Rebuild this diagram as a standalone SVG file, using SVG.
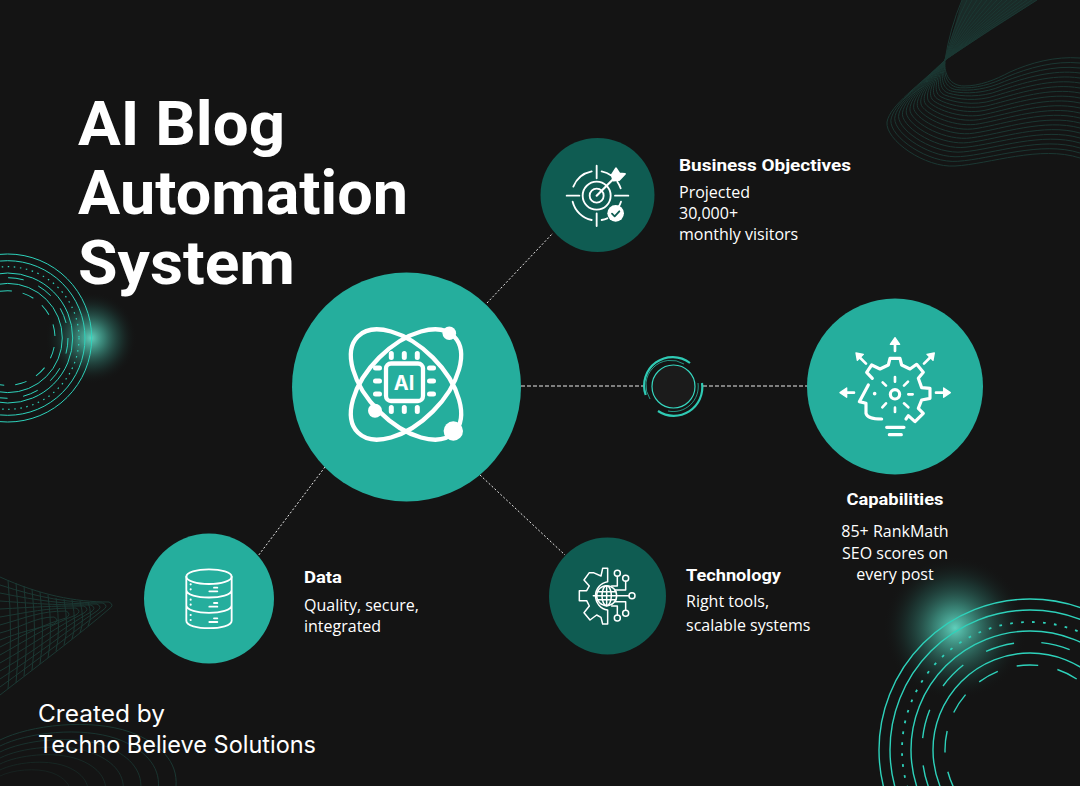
<svg xmlns="http://www.w3.org/2000/svg" width="1080" height="786" viewBox="0 0 1080 786">
<style>
.title{font:700 62px "Roboto","Liberation Sans",sans-serif;fill:#fff}
.head{font:700 17px "Roboto","Liberation Sans",sans-serif;fill:#fff}
.body{font:400 16px "Open Sans","Liberation Sans",sans-serif;fill:#fff}
.credit{font:400 24px "Inter","Open Sans",sans-serif;fill:#fff}
.mid{text-anchor:middle}
.wave{fill:none;stroke:#1b3833;stroke-width:1}
.ring{fill:none;stroke:#2ed2bb}
.link{stroke:#e8e8e8;stroke-width:1;stroke-dasharray:2 2;fill:none}
.dash{stroke-dasharray:4 2}
.ico{fill:none;stroke:#fff;stroke-linecap:round;stroke-linejoin:round}
.light{fill:#25ae9d}
.dark{fill:#0f5c52}
</style>
<defs>
<radialGradient id="glow"><stop offset="0" stop-color="#5fd0bc"/><stop offset=".3" stop-color="#3f9686" stop-opacity=".8"/><stop offset=".65" stop-color="#24564e" stop-opacity=".45"/><stop offset="1" stop-color="#141414" stop-opacity="0"/></radialGradient>
<path id="wv" d="M0 740C30 725 90 718 130 732C160 743 178 762 176 786"/>
</defs>
<rect width="1080" height="786" fill="#141414"/>

<g id="decor-top-right" class="wave">
<path d="M962 0L1037 0L945 60Z" fill="#1a2b28" stroke="none"/>
<path d="M945 60Q950 28 962 0M945 60Q952.75 28 967 0M945 60Q955.5 28 972 0M945 60Q958.25 28 977 0M945 60Q961 28 982 0M945 60Q963.75 28 987 0M945 60Q966.5 28 992 0M945 60Q969.25 28 997 0M945 60Q972 28 1002 0M945 60Q974.75 28 1007 0M945 60Q977.5 28 1012 0M945 60Q980.25 28 1017 0M945 60Q983 28 1022 0M945 60Q985.75 28 1027 0M945 60Q988.5 28 1032 0M945 60Q991.25 28 1037 0"/>
<path d="M945 62C944 74 950 86 964 86C980 86 995 80 1010 72C1030 63 1055 56 1080 58"/>
<path d="M945 60C942.8 74.55 947 86.95 960.15 87.8C975.25 88.7 991.5 84.4 1007.25 76.7C1028 68.05 1054.25 60.45 1080 63"/>
<path d="M945 60C941.6 75.1 944 87.9 956.3 89.6C970.5 91.4 988 88.8 1004.5 81.4C1026 73.1 1053.5 64.9 1080 68"/>
<path d="M945 60C940.4 75.65 941 88.85 952.45 91.4C965.75 94.1 984.5 93.2 1001.75 86.1C1024 78.15 1052.75 69.35 1080 73"/>
<path d="M945 60C939.2 76.2 938 89.8 948.6 93.2C961 96.8 981 97.6 999 90.8C1022 83.2 1052 73.8 1080 78"/>
<path d="M945 60C938 76.75 935 90.75 944.75 95C956.25 99.5 977.5 102 996.25 95.5C1020 88.25 1051.25 78.25 1080 83"/>
<path d="M945 60C936.8 77.3 932 91.7 940.9 96.8C951.5 102.2 974 106.4 993.5 100.2C1018 93.3 1050.5 82.7 1080 88"/>
<path d="M945 60C935.6 77.85 929 92.65 937.05 98.6C946.75 104.9 970.5 110.8 990.75 104.9C1016 98.35 1049.75 87.15 1080 93"/>
<path d="M945 60C934.4 78.4 926 93.6 933.2 100.4C942 107.6 967 115.2 988 109.6C1014 103.4 1049 91.6 1080 98"/>
<path d="M945 60C933.2 78.95 923 94.55 929.35 102.2C937.25 110.3 963.5 119.6 985.25 114.3C1012 108.45 1048.25 96.05 1080 103"/>
<path d="M945 60C932 79.5 920 95.5 925.5 104C932.5 113 960 124 982.5 119C1010 113.5 1047.5 100.5 1080 108"/>
<path d="M945 60C930.8 80.05 917 96.45 921.65 105.8C927.75 115.7 956.5 128.4 979.75 123.7C1008 118.55 1046.75 104.95 1080 113"/>
<path d="M945 60C929.6 80.6 914 97.4 917.8 107.6C923 118.4 953 132.8 977 128.4C1006 123.6 1046 109.4 1080 118"/>
<path d="M945 60C928.4 81.15 911 98.35 913.95 109.4C918.25 121.1 949.5 137.2 974.25 133.1C1004 128.65 1045.25 113.85 1080 123"/>
<path d="M945 60C927.2 81.7 908 99.3 910.1 111.2C913.5 123.8 946 141.6 971.5 137.8C1002 133.7 1044.5 118.3 1080 128"/>
<path d="M945 60C926 82.25 905 100.25 906.25 113C908.75 126.5 942.5 146 968.75 142.5C1000 138.75 1043.75 122.75 1080 133"/>
<path d="M945 60C924.8 82.8 902 101.2 902.4 114.8C904 129.2 939 150.4 966 147.2C998 143.8 1043 127.2 1080 138"/>
<path d="M945 60C923.6 83.35 899 102.15 898.55 116.6C899.25 131.9 935.5 154.8 963.25 151.9C996 148.85 1042.25 131.65 1080 143"/>
<path d="M945 60C922.4 83.9 896 103.1 894.7 118.4C894.5 134.6 932 159.2 960.5 156.6C994 153.9 1041.5 136.1 1080 148"/>
<path d="M945 60C921.2 84.45 893 104.05 890.85 120.2C889.75 137.3 928.5 163.6 957.75 161.3C992 158.95 1040.75 140.55 1080 153"/>
<path d="M945 60C920 85 890 105 887 122C885 140 925 168 955 166C990 164 1040 145 1080 158"/>
</g>

<g id="decor-bottom-left" class="wave">
<path d="M0 577C40 595 75 602 109 602Q115 605 109 609C80 634 40 664 0 695"/>
<path d="M0 585C40 598 69 603 103 603Q109 606 103 610C74 632 40 658 0 687"/>
<path d="M0 593C40 601 63 604 97 604Q103 607 97 611C68 630 40 653 0 679"/>
<path d="M0 601C40 604 57 605 91 605Q97 608 91 612C62 628 40 648 0 671"/>
<path d="M0 609C35 607 50 606 84 606Q90 609 84 613C58 626 35 643 0 663"/>
<path d="M0 617C30 612 45 608 76 608Q82 611 76 615C52 624 30 638 0 655"/>
<path d="M0 625C25 618 40 611 66 611Q72 614 66 618C45 624 25 634 0 647"/>
<path d="M0 633C20 628 35 617 54 617Q60 620 54 624C38 628 20 632 0 640"/>
<path d="M8 580Q13 634 8 689M16 583Q21 635 16 683M24 586Q29 635 24 676M32 589Q37 634 32 670M40 592Q45 633 40 664M48 595Q53 632 48 658M56 598Q61 630 56 651M64 599Q69 628 64 645M72 600Q77 625 72 639M80 601Q85 620 80 633M88 602Q93 616 88 626"/>
<use href="#wv"/><use href="#wv" transform="translate(0 80) scale(.9)"/><use href="#wv" transform="translate(0 160) scale(.8)"/><use href="#wv" transform="translate(0 240) scale(.7)"/><use href="#wv" transform="translate(0 320) scale(.6)"/><use href="#wv" transform="translate(0 400) scale(.5)"/><use href="#wv" transform="translate(0 480) scale(.4)"/>
</g>

<circle cx="91" cy="338" r="46" fill="url(#glow)"/>
<g id="decor-left-rings" class="ring" stroke-width="1">
<circle cx="7.7" cy="338" r="84"/>
<circle cx="7.7" cy="338" r="77.3"/>
<circle cx="7.7" cy="338" r="71.3" stroke-dasharray="1.5 4.6" stroke-width="1.2"/>
<circle cx="7.7" cy="338" r="65"/>
<circle cx="7.7" cy="338" r="60.3" stroke-dasharray="15.8 15.77"/>
<circle cx="7.7" cy="338" r="54.6"/>
<circle cx="7.7" cy="338" r="47.3" stroke-dasharray="11.9 10.96" transform="rotate(-16.7 7.7 338)"/>
</g>

<circle cx="955" cy="628" r="72" fill="url(#glow)"/>
<g id="decor-right-rings" class="ring" stroke-width="1.4">
<circle cx="1030" cy="750" r="151"/>
<circle cx="1030" cy="750" r="140"/>
<circle cx="1030" cy="750" r="128" stroke-dasharray="2.7 8.3" stroke-width="1.8"/>
<circle cx="1030" cy="750" r="119"/>
<circle cx="1030" cy="750" r="108" stroke-dasharray="29.2 27.35" transform="rotate(246 1030 750)"/>
<circle cx="1030" cy="750" r="97"/>
<circle cx="1030" cy="750" r="85" stroke-dasharray="21.5 19.58" transform="rotate(233.3 1030 750)"/>
</g>

<g id="connectors">
<path class="link" d="M487 303L553 233"/>
<path class="link" d="M325 467L258 556"/>
<path class="link" d="M480 475L565 555"/>
<path class="link dash" d="M521 386H645M703 386H807"/>
</g>

<g id="title">
<text class="title" x="78" y="145" textLength="207" lengthAdjust="spacingAndGlyphs">AI Blog</text>
<text class="title" x="78" y="214" textLength="330" lengthAdjust="spacingAndGlyphs">Automation</text>
<text class="title" x="78" y="284" textLength="217" lengthAdjust="spacingAndGlyphs">System</text>
</g>

<g id="node-center">
<circle class="light" cx="406.5" cy="387" r="114.5"/>
<g class="ico" stroke-width="4.3">
<ellipse cx="406" cy="384.5" rx="68" ry="38" transform="rotate(45 406 384.5)"/>
<ellipse cx="406" cy="384.5" rx="68" ry="38" transform="rotate(-45 406 384.5)"/>
<rect x="386" y="363.5" width="37" height="37.5" rx="5" fill="#25ae9d"/>
<path stroke-width="5" d="M391.3 353.5V357.5M404.3 353.5V357.5M417.3 353.5V357.5M391.3 407.5V411.5M404.3 407.5V411.5M417.3 407.5V411.5M375.5 368H379.5M375.5 381H379.5M375.5 394H379.5M429.5 368H433.5M429.5 381H433.5M429.5 394H433.5"/>
</g>
<circle cx="449.3" cy="333.3" r="6.8" fill="#fff"/><circle cx="375" cy="410.7" r="7" fill="#fff"/><circle cx="453.3" cy="431" r="9.7" fill="#fff"/>
<text x="404" y="389.5" text-anchor="middle" font-family="Inter,'Liberation Sans',sans-serif" font-weight="700" font-size="20" fill="#fff">AI</text>
</g>

<g id="node-business">
<circle class="dark" cx="597.5" cy="195" r="57"/>
<g class="ico" transform="translate(530 130) scale(.3333)" stroke-width="5.5">
<path d="M200 107V145M200 250V288M110 197H148M255 197H295"/>
<path d="M130 170A75 75 0 0 1 185 124M215 124A75 75 0 0 1 245 137M262 155A75 75 0 0 1 272 175M273 215A75 75 0 0 1 265 232M128 215A75 75 0 0 0 185 270M215 270A75 75 0 0 0 232 265"/>
<circle cx="200" cy="197" r="42"/><circle cx="200" cy="197" r="21"/>
<path d="M200 197L262 135" stroke-width="6.5"/>
<path d="M245 135L258 115L268 130L285 132L268 150L250 152Z" fill="#fff"/>
<circle cx="257" cy="250" r="25" fill="#fff" stroke="none"/>
<path d="M246 251L254 259L268 244" stroke="#0f5c52" stroke-width="5.5"/>
</g>
</g>

<g id="node-capabilities">
<circle class="light" cx="895" cy="386.5" r="88"/>
<g class="ico" transform="translate(800 295) scale(.3333)" stroke-width="9.5">
<path d="M217 250L200 232L215 210L240 222L265 210L270 190H300L305 210L330 222L350 208L370 232L355 250L365 278L390 280V310L365 315L355 340L370 355L345 380L325 362L318 372"/>
<path d="M205 270L178 320L198 325V355Q202 372 245 372"/>
<circle cx="285" cy="298" r="14"/>
<path stroke-width="8" d="M285 246V260M285 338V351M325 298H338M248 262L258 272M324 260L312 272M258 325L247 337M312 325L325 337"/>
<path d="M260 397H312M268 419H304"/>
<path d="M224 296V296.1" stroke-width="11"/>
<path d="M285 168V140M198 206L178 186M372 206L392 186M162 293H135M408 293H438" stroke-width="8"/>
<g fill="#fff" stroke-width="4">
<path d="M285 128L299 148H271Z"/>
<path d="M168 174L190 178L172 196Z"/>
<path d="M403 174L399 196L381 178Z"/>
<path d="M120 293L140 279V307Z"/>
<path d="M451 293L431 279V307Z"/>
</g>
</g>
</g>

<g id="node-technology">
<circle class="dark" cx="607.5" cy="596" r="58.5"/>
<g class="ico" transform="translate(540 530) scale(.3333)" stroke-width="4.5" stroke="#f2f2f2">
<path d="M203 155V115H188L183 138L160 128L148 128L132 150L148 168L140 182H118V212H140L148 228L132 248L150 270L170 255L183 262L188 282H203V240A43 43 0 0 1 203 155Z"/>
<circle cx="200" cy="197" r="30"/>
<ellipse cx="200" cy="197" rx="14" ry="30"/>
<path d="M200 167V227M172 185H228M172 209H228"/>
<path d="M232 139V168H215M257 154V180H225M160 197H267M257 241V215H225M232 255V228H215"/>
<circle cx="232" cy="130" r="9"/><circle cx="257" cy="145" r="9"/><circle cx="276" cy="197" r="9"/><circle cx="257" cy="250" r="9"/><circle cx="232" cy="264" r="9"/>
</g>
</g>

<g id="node-data">
<circle class="light" cx="209" cy="598.5" r="65"/>
<g class="ico" transform="translate(140 530) scale(.3333)" stroke-width="5.5">
<ellipse cx="207" cy="140" rx="68" ry="22"/>
<path d="M139 140V272C139 302 275 302 275 272V140M139 180C139 210 275 210 275 180M139 226C139 256 275 256 275 226"/>
<path d="M222 173H232M208 184H232M222 219H232M208 230H232M222 265H232M208 276H232"/>
<path d="M152 163V163.1M152 178V178.1M152 209V209.1M152 224V224.1M152 255V255.1M152 270V270.1" stroke-width="6.5"/>
</g>
</g>

<g id="ring-small">
<circle cx="673.5" cy="386.5" r="21.5" fill="#1b1b1b" stroke="#36d6bf" stroke-width="1.2"/>
<g fill="none" stroke="#2fcab4">
<path stroke-width="2.2" d="M645.7 395A28.5 28.5 0 0 1 690 363"/>
<path stroke-width="2.2" d="M702 383A28.5 28.5 0 0 1 658 411"/>
<path stroke-width="1" stroke-opacity=".7" d="M650 399A25 25 0 0 1 684 364"/>
<path stroke-width="1" stroke-opacity=".7" d="M698 383A25 25 0 0 1 668 411"/>
</g>
</g>

<g id="labels">
<text class="head" x="679" y="171" textLength="172" lengthAdjust="spacingAndGlyphs">Business Objectives</text>
<text class="body" x="679" y="198">Projected</text>
<text class="body" x="679" y="219">30,000+</text>
<text class="body" x="679" y="240">monthly visitors</text>
<text class="head mid" x="895" y="505" textLength="97" lengthAdjust="spacingAndGlyphs">Capabilities</text>
<text class="body mid" x="895" y="537">85+ RankMath</text>
<text class="body mid" x="895" y="559">SEO scores on</text>
<text class="body mid" x="895" y="580">every post</text>
<text class="head" x="686" y="581" textLength="95" lengthAdjust="spacingAndGlyphs">Technology</text>
<text class="body" x="686" y="607">Right tools,</text>
<text class="body" x="686" y="631">scalable systems</text>
<text class="head" x="304" y="583" textLength="38" lengthAdjust="spacingAndGlyphs">Data</text>
<text class="body" x="304" y="611">Quality, secure,</text>
<text class="body" x="304" y="632">integrated</text>
<text class="credit" x="38" y="722" textLength="127" lengthAdjust="spacingAndGlyphs">Created by</text>
<text class="credit" x="38" y="753" textLength="278" lengthAdjust="spacingAndGlyphs">Techno Believe Solutions</text>
</g>
</svg>
